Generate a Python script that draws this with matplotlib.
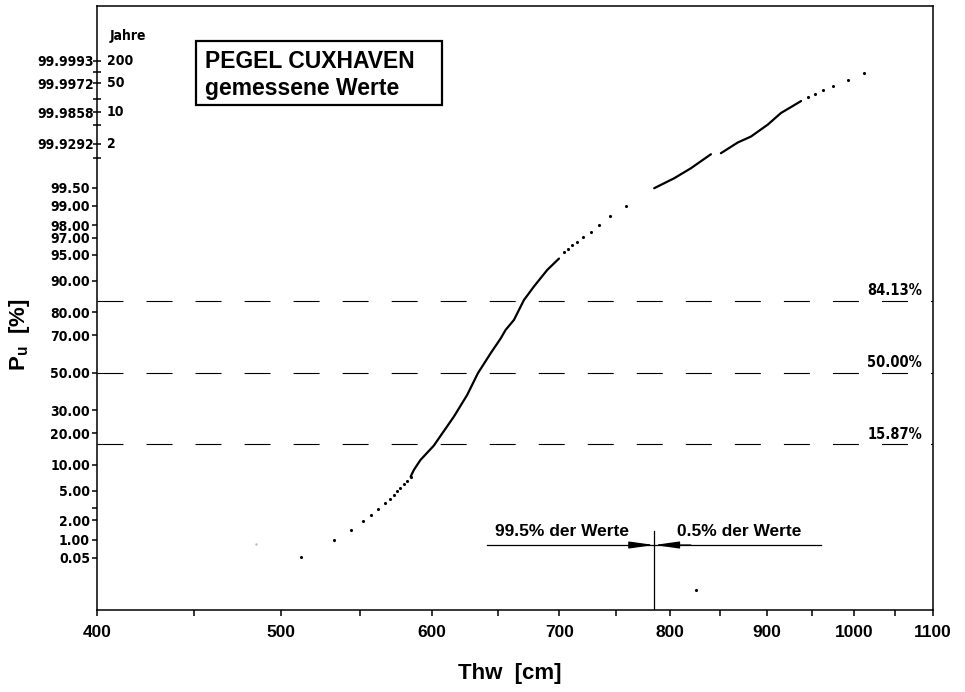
import numpy as np
import matplotlib
matplotlib.use('Agg')
import matplotlib.pyplot as plt
from matplotlib.patches import Rectangle
from matplotlib.ticker import FixedLocator, FixedFormatter, NullFormatter
from statistics import NormalDist

# values: Thw [cm] and Pu [%]
low_thw = [512, 532.7, 544, 552, 557, 562, 567, 570, 573, 575, 577.5, 580, 582, 584.6]
low_pu = [0.507, 0.99, 1.41, 1.95, 2.35, 2.88, 3.45, 3.96, 4.43, 4.97, 5.46, 6.01, 6.63, 7.38]

mid_thw = [584.6, 586.9, 591.6, 601.2, 616, 626, 634.2, 644, 652, 655.8, 662.5, 670.5,
           678.7, 689.8, 699.6]
mid_pu = [7.38, 8.77, 11.2, 15.46, 27.0, 37.8, 49.7, 60.6, 68.4, 72.4, 76.9, 84.4,
          88.5, 92.4, 94.4]

upper_thw = [703.9, 707.3, 711, 715.4, 720.6, 727, 734.4, 744.2, 758.5]
upper_pu = [95.4, 95.7, 96.24, 96.6, 97.03, 97.47, 98.02, 98.54, 99.0]

top1_thw = [785, 804.2, 820.6, 840.8]
top1_pu = [99.49, 99.661, 99.779, 99.8825]
top2_thw = [851, 868.4, 882.5, 900.6, 915.2, 926.4, 937.7]
top2_pu = [99.888, 99.9324, 99.9496, 99.9724, 99.9851, 99.9892, 99.99225]

tail_thw = [945.7, 953.7, 963, 974.8, 992.6, 1012]
tail_pu = [99.99385, 99.9948, 99.99587, 99.99674, 99.99771, 99.9985]

odd_thw = [826]
odd_pu = [0.122]
faint_thw = [485]
faint_pu = [0.85]

x_major = [400, 500, 600, 700, 800, 900, 1000, 1100]
x_minor = [450, 550, 650, 750, 850, 950, 1050]

pct_ticks = [0.5, 1, 2, 3, 5, 10, 20, 30, 50, 70, 80, 90, 95, 97, 98, 99, 99.5]
pct_labels = ['0.05', '1.00', '2.00', '', '5.00', '10.00', '20.00', '30.00', '50.00',
              '70.00', '80.00', '90.00', '95.00', '97.00', '98.00', '99.00', '99.50']

year_pct = [99.8584, 99.9292, 99.9717, 99.9858, 99.99292, 99.9972, 99.998584, 99.9993]
year_left = ['', '99.9292', '', '99.9858', '', '99.9972', '', '99.9993']
year_right = ['', '2', '', '10', '', '50', '', '200']

sigma_lines = [84.13, 50.00, 15.87]
sigma_labels = ['84.13%', '50.00%', '15.87%']

split_thw = 785      # 99.5 % der Werte
arrow_pu = 0.82

_nd = NormalDist()
_ppf = np.vectorize(_nd.inv_cdf, otypes=[float])
_cdf = np.vectorize(_nd.cdf, otypes=[float])


def probit(p):
    p = np.clip(np.asarray(p, dtype=float) / 100.0, 1e-12, 1 - 1e-12)
    return _ppf(p)


def inv_probit(z):
    return _cdf(np.asarray(z, dtype=float)) * 100.0


plt.rcParams['lines.scale_dashes'] = False
din = dict(family='DejaVu Sans', fontstretch='condensed', fontweight='bold')
helv = dict(family='Liberation Sans', fontweight='bold')

fig = plt.figure(figsize=(9.65, 6.92), dpi=100)
ax = fig.add_axes([97 / 965, 1 - 610 / 692, 836 / 965, 604 / 692])
ax.set_xscale('log')
ax.set_yscale('function', functions=(probit, inv_probit))
ax.set_xlim(400, 1100)
ax.set_ylim(0.0475, 99.9999836)

for s in ax.spines.values():
    s.set_linewidth(1.1)

# dashed sigma lines
for v, lab in zip(sigma_lines, sigma_labels):
    ax.axhline(v, color='black', lw=0.8, dashes=(18.7, 16.6))
    ax.annotate(lab, xy=(1050, v), xytext=(0, 2), textcoords='offset points',
                ha='center', va='bottom', fontsize=10.5, **din)

# data
ax.plot(mid_thw, mid_pu, color='black', lw=1.6, solid_capstyle='round')
ax.plot(top1_thw, top1_pu, color='black', lw=1.6, solid_capstyle='round')
ax.plot(top2_thw, top2_pu, color='black', lw=1.6, solid_capstyle='round')
ax.scatter(low_thw + upper_thw + tail_thw + odd_thw, low_pu + upper_pu + tail_pu + odd_pu,
           s=5, color='black', linewidths=0)
ax.scatter(faint_thw, faint_pu, s=3, color='#bbbbbb', linewidths=0)

# x ticks
ax.xaxis.set_major_locator(FixedLocator(x_major))
ax.xaxis.set_major_formatter(FixedFormatter([str(v) for v in x_major]))
ax.xaxis.set_minor_locator(FixedLocator(x_minor))
ax.xaxis.set_minor_formatter(NullFormatter())
ax.tick_params(axis='x', which='both', direction='out', length=4, width=1.1, pad=7)
for t in ax.get_xticklabels():
    t.set_fontsize(12.5)
    t.set_fontfamily('Liberation Sans')
    t.set_fontweight('bold')

# y ticks: percent (major) and return periods (minor)
ax.yaxis.set_major_locator(FixedLocator(pct_ticks))
ax.yaxis.set_major_formatter(FixedFormatter(pct_labels))
ax.yaxis.set_minor_locator(FixedLocator(year_pct))
ax.yaxis.set_minor_formatter(FixedFormatter(year_left))
ax.tick_params(axis='y', which='major', direction='out', length=3.5, width=1.1, pad=1.5)
ax.tick_params(axis='y', which='minor', direction='inout', length=6, width=1.1, pad=-1)
for t in ax.get_yticklabels(which='both'):
    t.set_fontsize(10)
    t.set_fontfamily('DejaVu Sans')
    t.set_fontstretch('condensed')
    t.set_fontweight('bold')

for v, lab in zip(year_pct, year_right):
    if lab:
        ax.annotate(lab, xy=(0, v), xycoords=('axes fraction', 'data'), xytext=(7, 0),
                    textcoords='offset points', ha='left', va='center', fontsize=10, **din)
ax.annotate('Jahre', xy=(0, year_pct[-1]), xycoords=('axes fraction', 'data'),
            xytext=(9, 18), textcoords='offset points', ha='left', va='center',
            fontsize=10, **din)

# title box
ax.add_patch(Rectangle((0.1184, 0.8361), 0.2943, 0.1065, transform=ax.transAxes,
                       fill=False, lw=1.6, ec='black'))
ax.text(0.1292, 0.8969, 'PEGEL CUXHAVEN', transform=ax.transAxes, fontsize=16.5,
        va='baseline', ha='left', **helv)
ax.text(0.1292, 0.8526, 'gemessene Werte', transform=ax.transAxes, fontsize=16.5,
        va='baseline', ha='left', **helv)

# 99.5 % / 0.5 % marker
ax.plot([641, 960.7], [arrow_pu, arrow_pu], color='black', lw=0.9)
ax.plot([split_thw, split_thw], [1.37, 0.0475], color='black', lw=0.9)
ax.annotate('', xy=(split_thw, arrow_pu), xytext=(764.8, arrow_pu),
            arrowprops=dict(arrowstyle='-|>,head_length=1.0,head_width=0.14',
                            mutation_scale=15, color='black', lw=0.9, shrinkA=0, shrinkB=0))
ax.annotate('', xy=(split_thw, arrow_pu), xytext=(820.6, arrow_pu),
            arrowprops=dict(arrowstyle='-|>,head_length=1.0,head_width=0.14',
                            mutation_scale=15, color='black', lw=0.9, shrinkA=0, shrinkB=0))
ax.text(761, 1.16, '99.5% der Werte', ha='right', va='baseline', fontsize=12.5, **helv)
ax.text(806.9, 1.16, '0.5% der Werte', ha='left', va='baseline', fontsize=12.5, **helv)

# axis labels
fig.text(510 / 965, 1 - 673 / 692, 'Thw  [cm]', ha='center', va='center', fontsize=16, **helv)
fig.text(19 / 965, 1 - 335 / 692, 'P$_{\\mathregular{u}}$  [%]', ha='center', va='center',
         rotation=90, fontsize=16, **helv)

fig.savefig('out.png', dpi=100, facecolor='white')
